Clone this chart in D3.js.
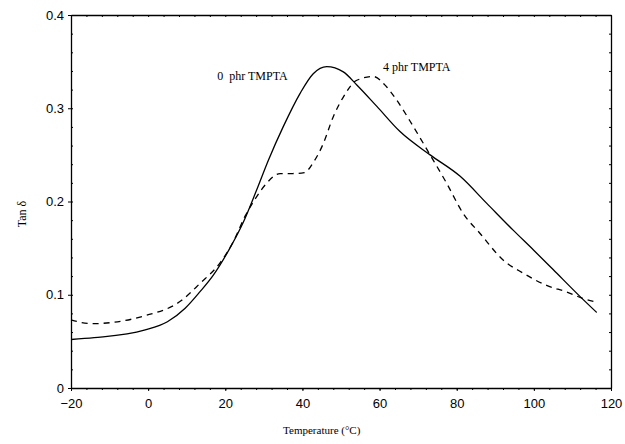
<!DOCTYPE html>
<html>
<head>
<meta charset="utf-8">
<script src="https://cdn.jsdelivr.net/npm/d3@7"></script>
<style>
  body { margin: 0; background: #fff; }
  svg { display: block; }
</style>
</head>
<body>
<svg id="chart"></svg>
<script>
// data
let temps0 = [-20, -14, -1, 5, 9.6, 13.4, 16.9, 21.2, 24.7, 28.1, 31.2, 35, 39.4, 42.8, 46.3, 50.6, 54.1, 59.3, 65.3, 73.1, 80.9, 87.8, 94.7, 99.9, 105, 112, 116.3];
let tan0 = [0.052, 0.054, 0.062, 0.071, 0.0855, 0.103, 0.121, 0.150, 0.178, 0.212, 0.2445, 0.280, 0.316, 0.337, 0.3446, 0.339, 0.325, 0.302, 0.275, 0.250, 0.227, 0.198, 0.169, 0.148, 0.127, 0.098, 0.081];

let temps4 = [-20, -14.6, -1.3, 8.7, 13.4, 18.6, 22.1, 25.1, 28.1, 30.7, 34.2, 37.5, 40.5, 43, 45.4, 48, 50.6, 54.1, 58.4, 61.8, 64.4, 68.8, 73.1, 77.4, 81.7, 86, 92.1, 97.3, 103.3, 108.5, 112.8, 115.9];
let tan4 = [0.073, 0.069, 0.077, 0.094, 0.112, 0.134, 0.157, 0.184, 0.205, 0.2195, 0.230, 0.230, 0.231, 0.243, 0.262, 0.291, 0.312, 0.330, 0.334, 0.323, 0.309, 0.280, 0.250, 0.2195, 0.187, 0.166, 0.137, 0.123, 0.110, 0.103, 0.096, 0.0925];

let xTicks = [-20, 0, 20, 40, 60, 80, 100, 120];
let yTicks = [0, 0.1, 0.2, 0.3, 0.4];
let seriesNames = ["0  phr TMPTA", "4 phr TMPTA"];

let width = 625, height = 444;
let plotLeft = 71, plotRight = 611, plotTop = 15, plotBottom = 388;

let svg = d3.select('#chart')
    .attr("width", width)
    .attr("height", height);

let x = d3.scaleLinear().domain([-20, 120]).range([plotLeft, plotRight]);
let y = d3.scaleLinear().domain([0, 0.4]).range([plotBottom, plotTop]);

let sansFont = "'Liberation Sans', Arial, sans-serif";
let serifFont = "'Liberation Serif', 'Times New Roman', serif";

// minor ticks every 4 degrees and every 0.02
let xMinor = d3.range(-20, 120.1, 4);
let yMinor = d3.range(0, 0.401, 0.02);

// bottom axis
svg.append("g")
    .attr("transform", "translate(0," + plotBottom + ")")
    .call(d3.axisBottom(x).tickValues(xMinor).tickSize(2).tickFormat(""))
    .call(g => g.select(".domain").remove());
let xAxis = svg.append("g")
    .attr("transform", "translate(0," + plotBottom + ")")
    .call(d3.axisBottom(x).tickValues(xTicks).tickSize(3).tickSizeOuter(0).tickPadding(8));
xAxis.selectAll("text").attr("font-family", sansFont).attr("font-size", 13);

// left axis
svg.append("g")
    .attr("transform", "translate(" + plotLeft + ",0)")
    .call(d3.axisRight(y).tickValues(yMinor).tickSize(2).tickFormat(""))
    .call(g => g.select(".domain").remove());
let yAxis = svg.append("g")
    .attr("transform", "translate(" + plotLeft + ",0)")
    .call(d3.axisLeft(y).tickValues(yTicks).tickSize(3).tickSizeOuter(0).tickPadding(4)
        .tickFormat(d => d === 0 ? "0" : d3.format(".1f")(d)));
yAxis.selectAll("text").attr("font-family", sansFont).attr("font-size", 13);

// top and right axes, only small ticks
svg.append("g")
    .attr("transform", "translate(0," + plotTop + ")")
    .call(d3.axisBottom(x).tickValues(xMinor).tickSize(2).tickSizeOuter(0).tickFormat(""));
svg.append("g")
    .attr("transform", "translate(" + plotRight + ",0)")
    .call(d3.axisLeft(y).tickValues(yMinor).tickSize(2).tickSizeOuter(0).tickFormat(""));

svg.selectAll(".domain").attr("stroke", "#000").attr("stroke-width", 1.3);
svg.selectAll(".tick line").attr("stroke", "#000");

// curves
let line = d3.line()
    .x(d => x(d[0]))
    .y(d => y(d[1]))
    .curve(d3.curveMonotoneX);

let pts0 = temps0.map((t, i) => [t, tan0[i]]);
let pts4 = temps4.map((t, i) => [t, tan4[i]]);

svg.append("path")
    .attr("d", line(pts0))
    .attr("fill", "none")
    .attr("stroke", "#000")
    .attr("stroke-width", 1.3);

svg.append("path")
    .attr("d", line(pts4))
    .attr("fill", "none")
    .attr("stroke", "#000")
    .attr("stroke-width", 1.3)
    .attr("stroke-dasharray", "6,5");

// labels on the curves
svg.append("text")
    .attr("x", x(17.9)).attr("y", y(0.330))
    .attr("font-family", serifFont).attr("font-size", 12)
    .style("white-space", "pre")
    .text(seriesNames[0]);
svg.append("text")
    .attr("x", x(60.9)).attr("y", y(0.340))
    .attr("font-family", serifFont).attr("font-size", 12)
    .text(seriesNames[1]);

// axis titles
svg.append("text")
    .attr("x", x(45)).attr("y", 434)
    .attr("text-anchor", "middle")
    .attr("font-family", serifFont).attr("font-size", 11)
    .text("Temperature (°C)");

svg.append("text")
    .attr("transform", "translate(26," + 214 + ") rotate(-90)")
    .attr("text-anchor", "middle")
    .attr("font-family", serifFont).attr("font-size", 12)
    .text("Tan δ");
</script>
</body>
</html>
